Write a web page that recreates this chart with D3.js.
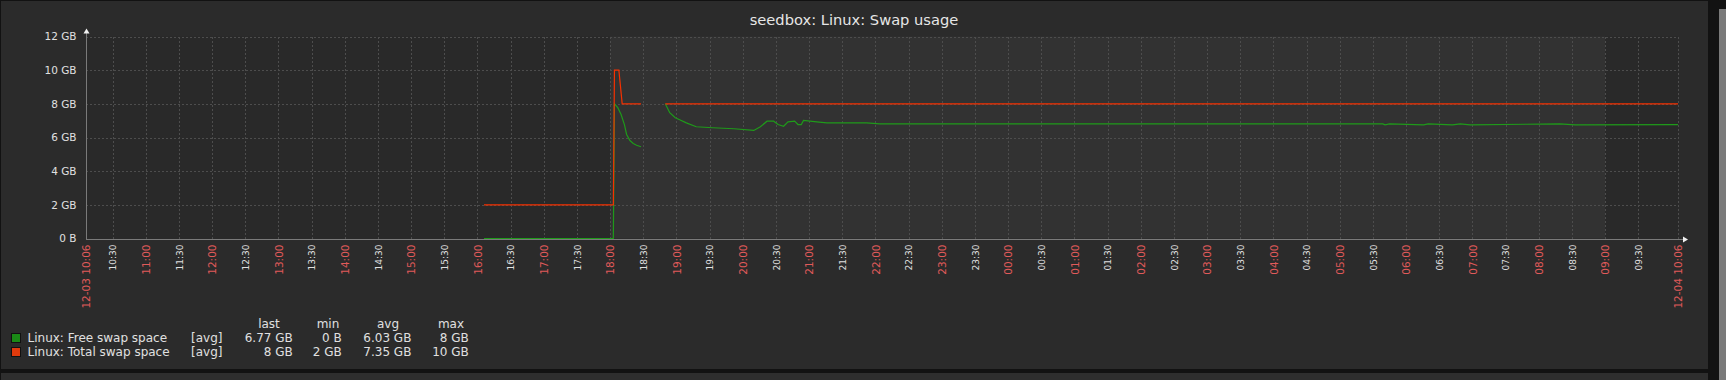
<!DOCTYPE html>
<html>
<head>
<meta charset="utf-8">
<script src="https://cdn.jsdelivr.net/npm/d3@7"></script>
<style>
  body { margin: 0; background: #121212; }
  svg { display: block; font-family: "DejaVu Sans", sans-serif; }
</style>
</head>
<body>
<div id="chart"></div>
<script>
// series: [time, GB], null marks a gap in data
const freeSwap = [
  ['12-03 16:06', 0], ['12-03 18:03', 0], ['12-03 18:04', 8], ['12-03 18:07', 7.77],
  ['12-03 18:10', 7.37], ['12-03 18:13', 6.77], ['12-03 18:15', 6.18], ['12-03 18:18', 5.82],
  ['12-03 18:21', 5.64], ['12-03 18:24', 5.54], ['12-03 18:28', 5.45],
  ['12-03 18:39', null],
  ['12-03 18:50', 8], ['12-03 18:54', 7.47], ['12-03 18:59', 7.17], ['12-03 19:03', 7.05],
  ['12-03 19:09', 6.87], ['12-03 19:18', 6.64], ['12-03 19:33', 6.58], ['12-03 19:52', 6.52],
  ['12-03 20:10', 6.42], ['12-03 20:16', 6.64], ['12-03 20:22', 6.97], ['12-03 20:28', 6.97],
  ['12-03 20:32', 6.77], ['12-03 20:37', 6.67], ['12-03 20:41', 6.93], ['12-03 20:47', 6.97],
  ['12-03 20:50', 6.77], ['12-03 20:53', 6.77], ['12-03 20:55', 7.01], ['12-03 21:07', 6.93],
  ['12-03 21:16', 6.87], ['12-03 21:52', 6.87], ['12-03 22:04', 6.81], ['12-04 05:39', 6.81],
  ['12-04 05:41', 6.75], ['12-04 05:45', 6.81], ['12-04 06:16', 6.75], ['12-04 06:20', 6.81],
  ['12-04 06:42', 6.75], ['12-04 06:49', 6.81], ['12-04 06:58', 6.75], ['12-04 08:19', 6.81],
  ['12-04 08:33', 6.75], ['12-04 10:06', 6.77]
];

const totalSwap = [
  ['12-03 16:06', 2], ['12-03 18:03', 2], ['12-03 18:04', 10], ['12-03 18:08', 10],
  ['12-03 18:11', 8], ['12-03 18:28', 8],
  ['12-03 18:39', null],
  ['12-03 18:50', 8], ['12-04 10:06', 8]
];

const timeRange = ['12-03 10:06', '12-04 10:06'];
const offHours = ['12-03 18:00', '12-04 09:00'];

const yTickValues = [0, 2, 4, 6, 8, 10, 12];
const yTickLabels = ['0 B', '2 GB', '4 GB', '6 GB', '8 GB', '10 GB', '12 GB'];

const legendNames = ['Linux: Free swap space', 'Linux: Total swap space'];
const legendHeaders = ['last', 'min', 'avg', 'max'];
const legendStats = [
  ['6.77 GB', '0 B', '6.03 GB', '8 GB'],
  ['8 GB', '2 GB', '7.35 GB', '10 GB']
];

const title = 'seedbox: Linux: Swap usage';

// styles
const colors = ['#1f9a1a', '#f63100'];
const squareColors = ['#1a8a16', '#e03a0c'];
const width = 1726;
const height = 380;
const plotLeft = 86;
const plotRight = 1678;
const plotTop = 36.5;
const plotBottom = 238.5;

const parse = d3.timeParse('%m-%d %H:%M');
const fmtHour = d3.timeFormat('%H:%M');
const fmtFull = d3.timeFormat('%m-%d %H:%M');

const start = parse(timeRange[0]);
const end = parse(timeRange[1]);

const x = d3.scaleTime().domain([start, end]).range([plotLeft, plotRight]);
const y = d3.scaleLinear().domain([0, 12]).range([plotBottom, plotTop]);

const svg = d3.select('#chart')
  .append('svg')
  .attr('width', width)
  .attr('height', height);

// frame
svg.append('rect').attr('x', 1).attr('y', 1).attr('width', 1707).attr('height', 368).attr('fill', '#2b2b2b');
svg.append('rect').attr('x', 1).attr('y', 373).attr('width', 1707).attr('height', 7).attr('fill', '#2e2e2e');
svg.append('rect').attr('x', 1719).attr('y', 9).attr('width', 7).attr('height', 371).attr('fill', '#7a7a7a');

// plot background + off-hours shading
svg.append('rect')
  .attr('x', plotLeft).attr('y', plotTop)
  .attr('width', plotRight - plotLeft).attr('height', plotBottom - plotTop)
  .attr('fill', '#292929');

svg.append('rect')
  .attr('x', x(parse(offHours[0]))).attr('y', plotTop)
  .attr('width', x(parse(offHours[1])) - x(parse(offHours[0])))
  .attr('height', plotBottom - plotTop)
  .attr('fill', '#323232');

// title
svg.append('text')
  .attr('x', 854).attr('y', 25)
  .attr('text-anchor', 'middle')
  .attr('fill', '#e6e6e6')
  .style('font-size', '14.67px')
  .text(title);

// x ticks every 30 minutes plus the end points (skip ticks too close to the ends)
const midTicks = d3.timeMinute.every(30).range(start, end)
  .filter((d) => d - start > 15 * 60000 && end - d > 15 * 60000);
const xTicks = [start].concat(midTicks, [end]);

// grid
const grid = svg.append('g')
  .attr('stroke', '#4d4d4d')
  .attr('stroke-dasharray', '2,2')
  .attr('shape-rendering', 'crispEdges');

grid.selectAll('.v')
  .data(xTicks.slice(1))
  .enter()
  .append('line')
  .attr('x1', (d) => Math.round(x(d)) + 0.5)
  .attr('x2', (d) => Math.round(x(d)) + 0.5)
  .attr('y1', plotTop)
  .attr('y2', plotBottom);

grid.selectAll('.h')
  .data(yTickValues.slice(1))
  .enter()
  .append('line')
  .attr('x1', plotLeft)
  .attr('x2', plotRight)
  .attr('y1', (d) => Math.round(y(d)) + 0.5)
  .attr('y2', (d) => Math.round(y(d)) + 0.5);

// series lines
const line = d3.line()
  .defined((d) => d[1] !== null)
  .x((d) => x(parse(d[0])))
  .y((d) => y(d[1]));

[freeSwap, totalSwap].forEach((series, i) => {
  svg.append('path')
    .datum(series)
    .attr('fill', 'none')
    .attr('stroke', colors[i])
    .attr('stroke-width', 1.2)
    .attr('d', line);
});

// y axis
const yAxis = svg.append('g')
  .attr('transform', 'translate(' + (plotLeft + 0.5) + ',0)')
  .call(d3.axisLeft(y)
    .tickValues(yTickValues)
    .tickSize(0)
    .tickPadding(10)
    .tickFormat((d, i) => yTickLabels[i]));

yAxis.select('.domain').remove();
yAxis.selectAll('text')
  .attr('fill', '#e0e0e0')
  .style('font-size', '10.5px')
  .style('font-family', '"DejaVu Sans", sans-serif');

// x axis
const xAxis = svg.append('g')
  .attr('transform', 'translate(0,' + (plotBottom + 1) + ')')
  .call(d3.axisBottom(x)
    .tickValues(xTicks)
    .tickSize(0)
    .tickFormat((d) => (+d === +start || +d === +end) ? fmtFull(d) : fmtHour(d)));

xAxis.select('.domain').remove();
xAxis.selectAll('text')
  .attr('transform', 'rotate(-90)')
  .attr('x', -5)
  .attr('y', 0)
  .attr('dy', '0.35em')
  .style('text-anchor', 'end')
  .style('font-family', '"DejaVu Sans", sans-serif')
  .style('font-size', (d) => d.getMinutes() === 30 ? '9px' : '10.5px')
  .attr('fill', (d) => d.getMinutes() === 30 ? '#e0e0e0' : '#e05a5a');

// axis lines and arrows
const axisColor = '#7a7a7a';
svg.append('line')
  .attr('x1', plotLeft + 0.5).attr('x2', plotLeft + 0.5)
  .attr('y1', plotTop - 6).attr('y2', plotBottom + 1)
  .attr('stroke', axisColor);
svg.append('line')
  .attr('x1', plotLeft).attr('x2', plotRight + 6)
  .attr('y1', plotBottom + 1).attr('y2', plotBottom + 1)
  .attr('stroke', axisColor);
svg.append('path')
  .attr('d', 'M' + (plotLeft - 2.5) + ',' + (plotTop - 3) + 'L' + (plotLeft + 0.5) + ',' + (plotTop - 8) + 'L' + (plotLeft + 3.5) + ',' + (plotTop - 3) + 'Z')
  .attr('fill', '#f0f0f0');
svg.append('path')
  .attr('d', 'M' + (plotRight + 5) + ',' + (plotBottom - 2) + 'L' + (plotRight + 10) + ',' + (plotBottom + 1) + 'L' + (plotRight + 5) + ',' + (plotBottom + 4) + 'Z')
  .attr('fill', '#f0f0f0');

// legend
const legend = svg.append('g')
  .attr('fill', '#e0e0e0')
  .style('font-size', '12px');

const statRight = [292.8, 341.7, 411.4, 468.8];
const statCenter = [269, 328, 388, 451];

legend.selectAll('.hdr')
  .data(legendHeaders)
  .enter()
  .append('text')
  .attr('x', (d, i) => statCenter[i])
  .attr('y', 328)
  .attr('text-anchor', 'middle')
  .text((d) => d);

legendNames.forEach((name, i) => {
  const baseline = 342 + i * 14;
  legend.append('rect')
    .attr('x', 11.5).attr('y', baseline - 8.5)
    .attr('width', 9).attr('height', 9)
    .attr('fill', squareColors[i])
    .attr('stroke', '#111');
  legend.append('text').attr('x', 27.5).attr('y', baseline).text(name);
  legend.append('text').attr('x', 191).attr('y', baseline).text('[avg]');
  legend.selectAll('.stat' + i)
    .data(legendStats[i])
    .enter()
    .append('text')
    .attr('x', (d, j) => statRight[j])
    .attr('y', baseline)
    .attr('text-anchor', 'end')
    .text((d) => d);
});
</script>
</body>
</html>
